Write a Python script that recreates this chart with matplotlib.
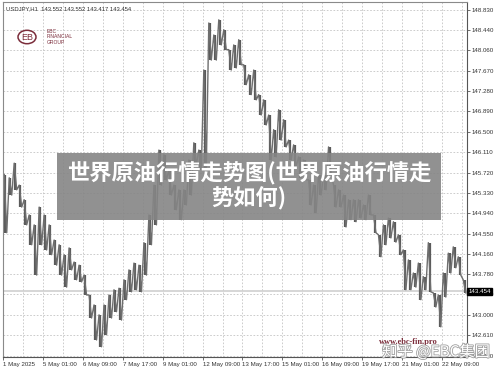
import numpy as np
import matplotlib
matplotlib.use("Agg")
import matplotlib.pyplot as plt
import matplotlib.patches as mpatches
import matplotlib.patheffects as pe

bar_high = [145.68, 145.62, 145.90, 145.48, 145.20, 144.91, 144.72, 145.06, 144.91, 144.72,
            144.43, 144.34, 144.15, 144.28, 144.01, 143.95, 143.76, 143.38, 143.19, 143.00,
            143.19, 143.38, 143.48, 143.51, 143.67, 143.86, 143.99, 143.95, 144.38, 144.91,
            145.48, 146.15, 146.06, 145.77, 145.48, 145.39, 145.39, 145.96, 146.29, 146.15,
            147.68, 148.58, 148.35, 148.64, 148.45, 148.07, 148.16, 148.26, 147.78, 147.59,
            147.68, 147.21, 147.11, 146.82, 146.54, 146.92, 146.73, 146.34, 146.25, 146.02,
            145.96, 145.58, 145.48, 145.68, 145.68, 146.21, 145.48, 145.39, 145.29, 145.20,
            145.20, 145.20, 145.10, 145.29, 144.91, 144.53, 144.72, 144.85, 144.78, 144.53,
            144.24, 144.05, 143.80, 143.99, 143.73, 144.38, 143.42, 143.38, 143.80, 144.18,
            144.30, 144.11, 143.67]
bar_low = [144.57, 145.29, 145.39, 145.06, 144.72, 144.34, 143.76, 144.34, 144.24, 144.15,
           143.95, 143.76, 143.53, 143.86, 143.67, 143.63, 143.38, 142.94, 142.52, 142.39,
           142.62, 142.94, 143.06, 142.90, 143.29, 143.44, 143.48, 143.44, 143.76, 144.34,
           144.72, 145.48, 145.58, 145.29, 145.01, 144.82, 145.10, 145.29, 145.87, 145.77,
           145.81, 147.87, 147.87, 148.16, 148.07, 147.68, 147.72, 147.78, 147.40, 147.21,
           147.11, 146.82, 146.63, 145.96, 146.02, 146.34, 146.21, 145.96, 145.83, 145.62,
           145.58, 145.10, 144.95, 145.29, 145.39, 145.71, 145.06, 145.06, 144.68, 144.82,
           144.78, 144.85, 144.82, 144.91, 144.57, 144.11, 144.34, 144.47, 144.39, 144.15,
           143.48, 143.48, 143.53, 143.29, 143.48, 143.44, 143.15, 142.77, 143.34, 143.80,
           143.90, 143.76, 143.42]
hours = np.arange(len(bar_high)) * 4

price_ticks = [148.830, 148.440, 148.060, 147.670, 147.280, 146.890, 146.500, 146.110,
               145.720, 145.330, 144.940, 144.550, 144.160, 143.780, 143.390, 143.000,
               142.610, 142.220]
time_labels = ["1 May 2025", "5 May 01:00", "6 May 09:00", "7 May 17:00", "9 May 01:00",
               "12 May 09:00", "13 May 17:00", "15 May 01:00", "16 May 09:00",
               "19 May 17:00", "21 May 01:00", "22 May 09:00"]
label_hours = [-2] + [30 + 32 * k for k in range(11)]
grid_hours = [14 + 16 * k for k in range(23)]
last_price = 143.454

plt.rcParams['font.family'] = ['Liberation Sans']

fig = plt.figure(figsize=(5, 3.73), dpi=100)
ax = fig.add_axes([0.006, 0.043, 0.928, 0.952])

ax.set_xlim(-2, 370)
ax.set_ylim(142.195, 148.983)

# grid
for h in grid_hours:
    ax.axvline(h, color='#c4c4c4', lw=0.6, ls=(0, (2, 2)), zorder=0)
for p in price_ticks:
    ax.axhline(p, color='#c4c4c4', lw=0.6, ls=(0, (2, 2)), zorder=0)

# current price line
ax.axhline(last_price, color='#d0d0d0', lw=1.2, zorder=1)

# price bars: each range plus a zigzag joining them so the band looks dense
ax.vlines(hours, bar_low, bar_high, color='#5a5a5a', lw=1.6, zorder=2)
zx = np.column_stack([hours - 1, hours + 1]).ravel()
zy = np.column_stack([bar_high, bar_low]).ravel()
ax.plot(zx, zy, color='#6e6e6e', lw=1.0, zorder=2)

ax.yaxis.tick_right()
ax.set_yticks(price_ticks)
ax.set_yticklabels(["%.3f" % p for p in price_ticks], fontsize=4.4, color='#333333')
ax.set_xticks(label_hours)
ax.set_xticklabels(time_labels, fontsize=4.4, color='#333333', ha='left')
ax.tick_params(axis='both', length=2, width=0.6, color='#555555', pad=1.5)
for s in ax.spines.values():
    s.set_color('#8a8a8a')
    s.set_linewidth(0.8)
ax.spines['right'].set_color('#555555')
ax.spines['bottom'].set_color('#555555')

# header
ax.text(0.006, 0.988, "USDJPY,H1  143.552 143.552 143.417 143.454", transform=ax.transAxes,
        fontsize=4.2, color='#333333', va='top', ha='left')

# logo
maroon = '#7b2d3b'
fig.patches.append(mpatches.Circle((27 / 500, 1 - 37 / 373), 9 / 500, transform=fig.transFigure,
                                   fill=False, ec=maroon, lw=1.1))
fig.text(27 / 500, 1 - 37 / 373, "EB", fontsize=6.5, color=maroon, ha='center', va='center')
fig.text(47 / 500, 1 - 37 / 373, "EBC\nFINANCIAL\nGROUP", fontsize=3.6, color=maroon,
         ha='left', va='center', linespacing=1.1)

# current price tag
ax.text(1.003, last_price, "143.454", transform=ax.get_yaxis_transform(), fontsize=4.4,
        color='white', ha='left', va='center',
        bbox=dict(boxstyle='square,pad=0.15', fc='black', ec='black'), zorder=5, clip_on=False)

# banner
cjk = ['Noto Sans CJK SC', 'DejaVu Sans']
fig.patches.append(mpatches.Rectangle((57 / 500, 1 - 220 / 373), 384 / 500, 67 / 373,
                                      transform=fig.transFigure, fc='#858585', ec='none',
                                      alpha=0.9, zorder=10))
fig.text(249 / 500, 1 - 174 / 373, "世界原油行情走势图(世界原油行情走", fontsize=16,
         family=cjk, weight='bold', color='white', ha='center', va='center', zorder=11)
fig.text(249 / 500, 1 - 199 / 373, "势如何)", fontsize=16,
         family=cjk, weight='bold', color='white', ha='center', va='center', zorder=11)

# watermarks
fig.text(408 / 500, 1 - 342 / 373, "www.ebc-fin.pro", fontsize=6, family='Liberation Serif',
         weight='bold', color=maroon, ha='center', va='center', zorder=11)
fig.text(436 / 500, 1 - 352 / 373, "知乎 @EBC集团", fontsize=11,
         family=cjk, color='white', ha='center', va='center',
         zorder=11, path_effects=[pe.withStroke(linewidth=1.2, foreground='#a0a0a0')])

fig.savefig("out.png", dpi=100)
